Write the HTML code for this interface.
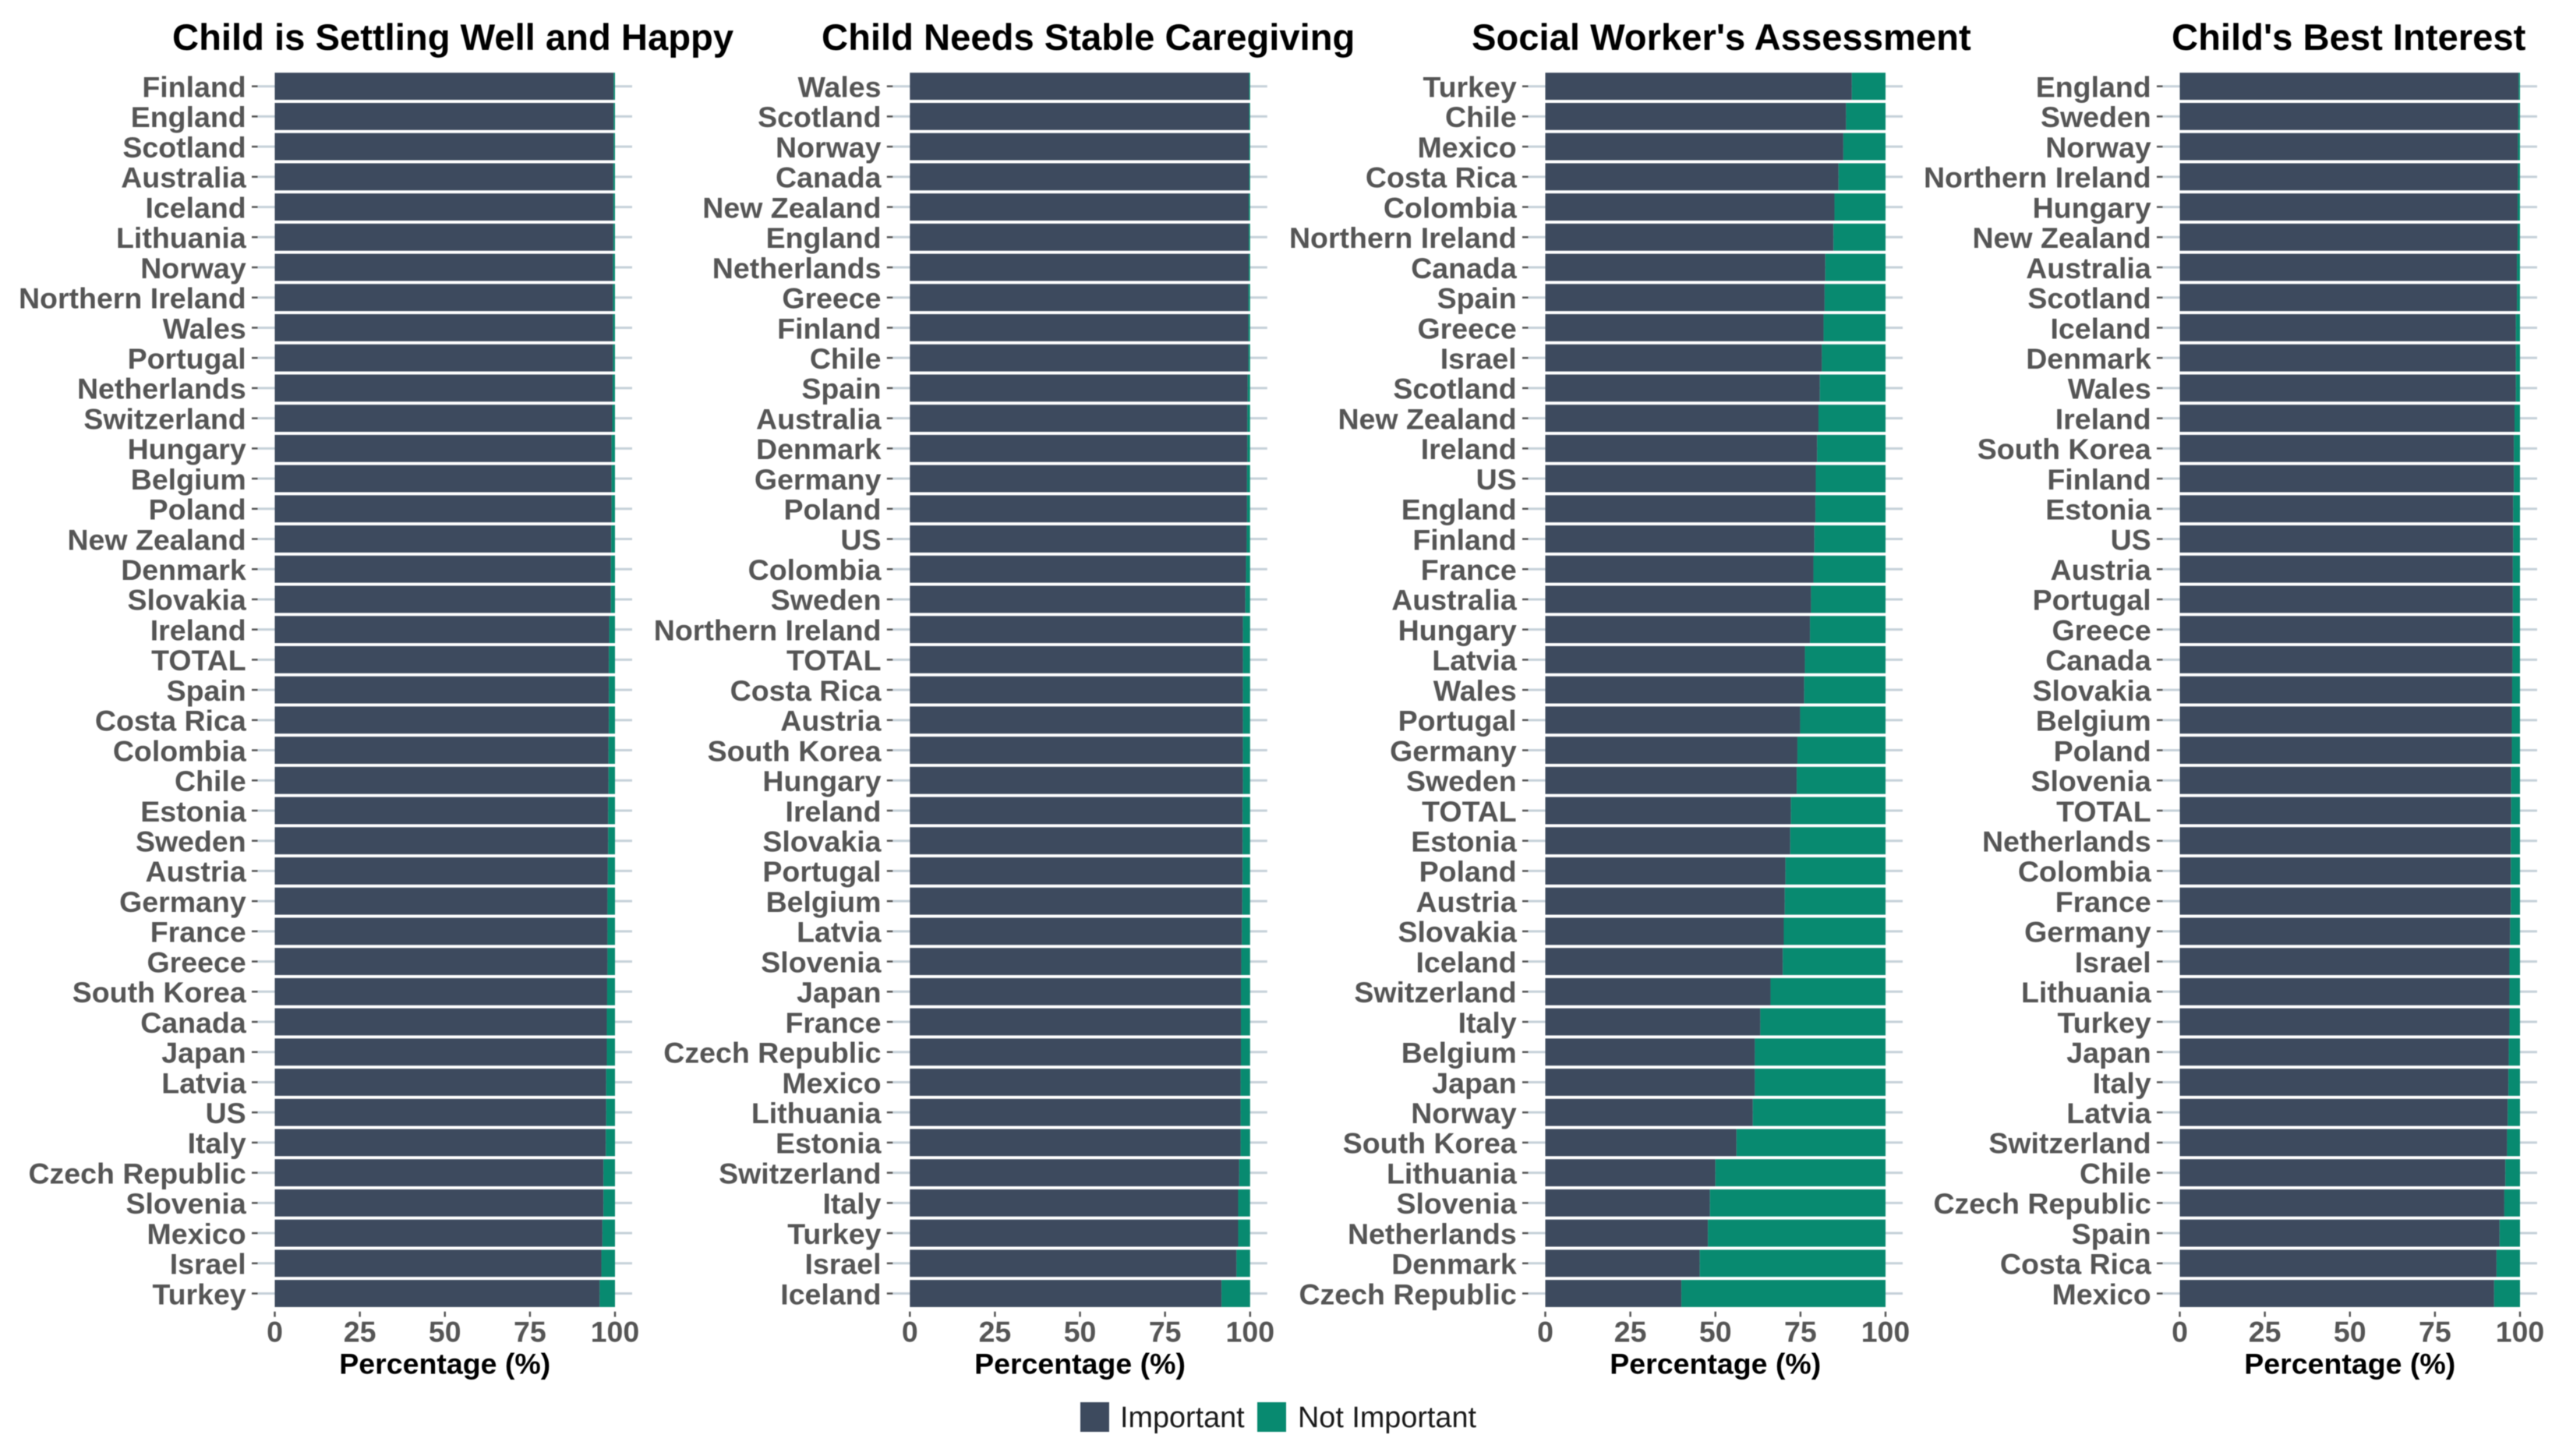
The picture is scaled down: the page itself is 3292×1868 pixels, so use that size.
<!DOCTYPE html>
<html lang="en">
<head>
<meta charset="utf-8">
<title>Importance ratings by country</title>
<style>
  html, body { margin: 0; padding: 0; background: #ffffff; width: 3292px; height: 1868px; overflow: hidden; }
  svg { display: block; filter: blur(0.5px); }
  text { font-family: "Liberation Sans", Arial, sans-serif; }
  .panel-title { font-size: 47.2px; font-weight: 700; fill: #000000; }
  .cat-label { font-size: 37.5px; font-weight: 700; fill: #555555; text-anchor: end; }
  .tick-label { font-size: 37.5px; font-weight: 700; fill: #555555; text-anchor: middle; }
  .axis-title { font-size: 37.5px; font-weight: 700; fill: #000000; text-anchor: middle; }
  .legend-label { font-size: 37.8px; fill: #1a1a1a; }
</style>
</head>
<body>
<svg id="chart" xmlns="http://www.w3.org/2000/svg" width="3292" height="1868" viewBox="0 0 3292 1868">
  <rect x="0" y="0" width="3292" height="1868" fill="#ffffff"/>
  <text class="panel-title" x="221" y="64">Child is Settling Well and Happy</text>
  <text class="panel-title" x="1054" y="64">Child Needs Stable Caregiving</text>
  <text class="panel-title" x="1888" y="64">Social Worker's Assessment</text>
  <text class="panel-title" x="2786" y="64">Child's Best Interest</text>
  <g>
    <rect x="1386" y="1799" width="37" height="38" fill="#3d4a5e"/>
    <text class="legend-label" x="1437" y="1831">Important</text>
    <rect x="1613" y="1799" width="37" height="38" fill="#088a70"/>
    <text class="legend-label" x="1665" y="1831">Not Important</text>
  </g>
</svg>
<script>
const tickLabels = [0, 25, 50, 75, 100];
const axisTitle = "Percentage (%)";

const categoriesSettling = ["Finland","England","Scotland","Australia","Iceland","Lithuania","Norway","Northern Ireland","Wales","Portugal","Netherlands","Switzerland","Hungary","Belgium","Poland","New Zealand","Denmark","Slovakia","Ireland","TOTAL","Spain","Costa Rica","Colombia","Chile","Estonia","Sweden","Austria","Germany","France","Greece","South Korea","Canada","Japan","Latvia","US","Italy","Czech Republic","Slovenia","Mexico","Israel","Turkey"];
const importantSettling = [99.6,99.6,99.6,99.5,99.5,99.5,99.4,99.4,99.4,99.4,99.3,99.2,99.0,99.0,99.0,98.9,98.8,98.8,98.3,98.2,98.2,98.2,98.1,98.1,98.0,98.0,97.9,97.8,97.8,97.8,97.7,97.6,97.6,97.4,97.4,97.3,96.6,96.6,96.3,96.0,95.5];
const notImportantSettling = [0.4,0.4,0.4,0.5,0.5,0.5,0.6,0.6,0.6,0.6,0.7,0.8,1.0,1.0,1.0,1.1,1.2,1.2,1.7,1.8,1.8,1.8,1.9,1.9,2.0,2.0,2.1,2.2,2.2,2.2,2.3,2.4,2.4,2.6,2.6,2.7,3.4,3.4,3.7,4.0,4.5];

const categoriesCaregiving = ["Wales","Scotland","Norway","Canada","New Zealand","England","Netherlands","Greece","Finland","Chile","Spain","Australia","Denmark","Germany","Poland","US","Colombia","Sweden","Northern Ireland","TOTAL","Costa Rica","Austria","South Korea","Hungary","Ireland","Slovakia","Portugal","Belgium","Latvia","Slovenia","Japan","France","Czech Republic","Mexico","Lithuania","Estonia","Switzerland","Italy","Turkey","Israel","Iceland"];
const importantCaregiving = [99.7,99.7,99.7,99.7,99.6,99.6,99.6,99.5,99.5,99.5,99.3,99.2,99.2,99.1,99.1,99.0,98.8,98.6,97.9,97.9,97.9,97.9,97.9,97.9,97.8,97.8,97.8,97.7,97.6,97.4,97.3,97.3,97.3,97.2,97.2,97.2,96.8,96.5,96.5,96.0,91.6];
const notImportantCaregiving = [0.3,0.3,0.3,0.3,0.4,0.4,0.4,0.5,0.5,0.5,0.7,0.8,0.8,0.9,0.9,1.0,1.2,1.4,2.1,2.1,2.1,2.1,2.1,2.1,2.2,2.2,2.2,2.3,2.4,2.6,2.7,2.7,2.7,2.8,2.8,2.8,3.2,3.5,3.5,4.0,8.4];

const categoriesAssessment = ["Turkey","Chile","Mexico","Costa Rica","Colombia","Northern Ireland","Canada","Spain","Greece","Israel","Scotland","New Zealand","Ireland","US","England","Finland","France","Australia","Hungary","Latvia","Wales","Portugal","Germany","Sweden","TOTAL","Estonia","Poland","Austria","Slovakia","Iceland","Switzerland","Italy","Belgium","Japan","Norway","South Korea","Lithuania","Slovenia","Netherlands","Denmark","Czech Republic"];
const importantAssessment = [90.1,88.4,87.6,86.2,85.0,84.7,82.3,82.1,81.8,81.3,80.7,80.3,79.9,79.5,79.4,79.1,78.8,78.1,77.8,76.3,76.1,74.9,74.1,73.9,72.2,72.0,70.6,70.4,70.1,69.8,66.2,63.2,61.6,61.6,61.0,56.2,50.0,48.4,47.8,45.4,40.0];
const notImportantAssessment = [9.9,11.6,12.4,13.8,15.0,15.3,17.7,17.9,18.2,18.7,19.3,19.7,20.1,20.5,20.6,20.9,21.2,21.9,22.2,23.7,23.9,25.1,25.9,26.1,27.8,28.0,29.4,29.6,29.9,30.2,33.8,36.8,38.4,38.4,39.0,43.8,50.0,51.6,52.2,54.6,60.0];

const categoriesBestInterest = ["England","Sweden","Norway","Northern Ireland","Hungary","New Zealand","Australia","Scotland","Iceland","Denmark","Wales","Ireland","South Korea","Finland","Estonia","US","Austria","Portugal","Greece","Canada","Slovakia","Belgium","Poland","Slovenia","TOTAL","Netherlands","Colombia","France","Germany","Israel","Lithuania","Turkey","Japan","Italy","Latvia","Switzerland","Chile","Czech Republic","Spain","Costa Rica","Mexico"];
const importantBestInterest = [99.6,99.5,99.4,99.4,99.3,99.3,99.1,99.1,98.8,98.8,98.8,98.4,98.2,98.2,98.0,98.0,97.9,97.9,97.9,97.8,97.7,97.6,97.6,97.4,97.4,97.3,97.3,97.3,97.1,96.9,96.9,96.9,96.7,96.6,96.4,96.2,95.7,95.4,94.0,93.1,92.4];
const notImportantBestInterest = [0.4,0.5,0.6,0.6,0.7,0.7,0.9,0.9,1.2,1.2,1.2,1.6,1.8,1.8,2.0,2.0,2.1,2.1,2.1,2.2,2.3,2.4,2.4,2.6,2.6,2.7,2.7,2.7,2.9,3.1,3.1,3.1,3.3,3.4,3.6,3.8,4.3,4.6,6.0,6.9,7.6];

const svg = document.getElementById('chart');
const NS = 'http://www.w3.org/2000/svg';
const plotWidth = 436.5;
const firstRowY = 110.7;
const rowPitch = 38.72;
const barHeight = 34.8;
const axisExpand = 22;
const colorImportant = '#3d4a5e';
const colorNotImportant = '#088a70';

function yScale(i) {
  return firstRowY + i * rowPitch;
}

function make(tag, attrs, parent) {
  const el = document.createElementNS(NS, tag);
  Object.keys(attrs).forEach(function (k) { el.setAttribute(k, attrs[k]); });
  parent.appendChild(el);
  return el;
}

function drawPanel(slug, left, categories, important, notImportant) {
  const xScale = function (v) { return left + v / 100 * plotWidth; };
  const group = make('g', {}, svg);
  
  

  categories.forEach(function (name, i) {
    const y = yScale(i);
    const key = name.toLowerCase().replace(/\s+/g, '-');

    const grid = make('line', { x1: xScale(0) - axisExpand, x2: xScale(100) + axisExpand, y1: y, y2: y, stroke: '#c6d1d9', 'stroke-width': 3 }, group);
    
    

    const tick = make('line', { x1: xScale(0) - axisExpand - 7.5, x2: xScale(0) - axisExpand, y1: y, y2: y, stroke: '#555555', 'stroke-width': 2.5 }, group);
    
    

    const label = make('text', { class: 'cat-label', x: xScale(0) - 36.8, y: y + 13.8 }, group);
    label.textContent = name;
    
    

    const barA = make('rect', { x: xScale(0), y: y - barHeight / 2, width: xScale(important[i]) - xScale(0), height: barHeight, fill: colorImportant }, group);
    
    

    const barB = make('rect', { x: xScale(important[i]), y: y - barHeight / 2, width: xScale(important[i] + notImportant[i]) - xScale(important[i]), height: barHeight, fill: colorNotImportant }, group);
    
    
  });

  tickLabels.forEach(function (t) {
    const xt = make('line', { x1: xScale(t), x2: xScale(t), y1: 1682.7, y2: 1689.5, stroke: '#555555', 'stroke-width': 2.5 }, group);
    
    

    const xl = make('text', { class: 'tick-label', x: xScale(t), y: 1721.7 }, group);
    xl.textContent = String(t);
    
    
  });

  const title = make('text', { class: 'axis-title', x: xScale(50), y: 1762.7 }, group);
  title.textContent = axisTitle;
  
  
}

drawPanel('settling', 352.5, categoriesSettling, importantSettling, notImportantSettling);
drawPanel('caregiving', 1167.3, categoriesCaregiving, importantCaregiving, notImportantCaregiving);
drawPanel('assessment', 1982.5, categoriesAssessment, importantAssessment, notImportantAssessment);
drawPanel('best-interest', 2796.5, categoriesBestInterest, importantBestInterest, notImportantBestInterest);
</script>
</body>
</html>
